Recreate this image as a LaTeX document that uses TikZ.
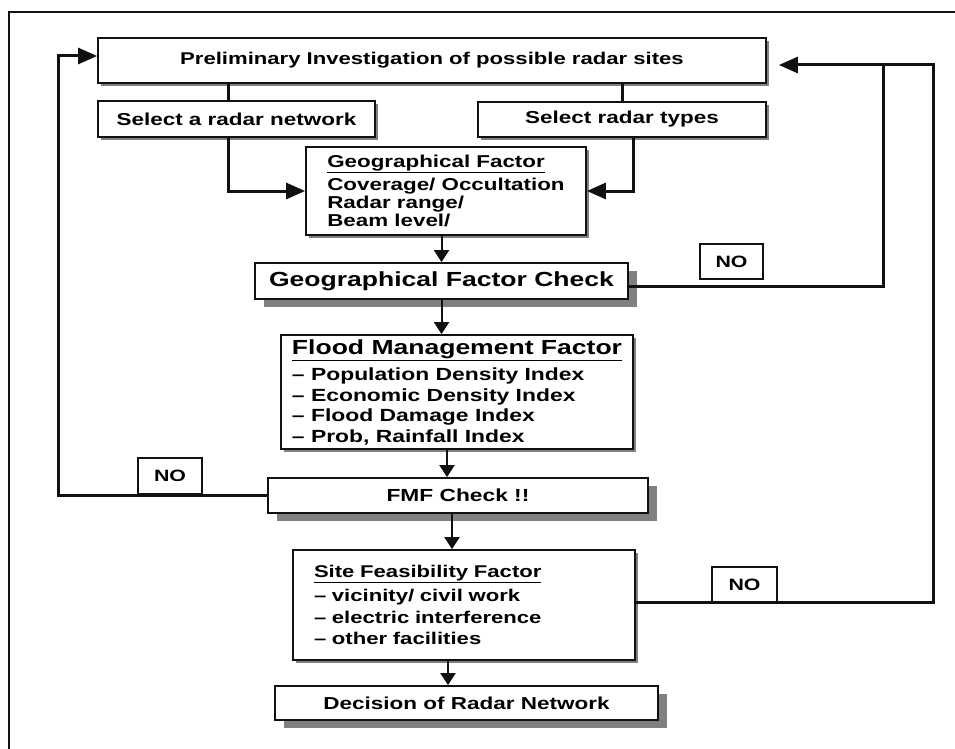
\documentclass[tikz,border=0pt]{standalone}
\usepackage{fontspec}
\setmainfont{Liberation Sans}[FakeStretch=1.3]
\usepackage{tikz}
\usetikzlibrary{arrows.meta,positioning,shadows}
\definecolor{shade}{HTML}{808080}
\definecolor{ink}{HTML}{111111}
\newcommand{\fs}[2]{\fontsize{#1}{#2}\selectfont\bfseries}
\tikzset{
  blk/.style={draw=ink, line width=1.8pt, fill=white, align=center, inner sep=2pt, font=\fs{17}{19}},
  blks/.style={blk, drop shadow={shadow xshift=3pt, shadow yshift=-3pt, opacity=1, fill=shade}},
  blkd/.style={blk, drop shadow={shadow xshift=9pt, shadow yshift=-8pt, opacity=1, fill=shade}},
  nobox/.style={draw=ink, line width=1.4pt, fill=white, font=\fs{16.4}{18}, minimum width=63pt, minimum height=35pt, inner sep=0pt},
  ln/.style={draw=ink, line width=3pt},
  ar/.style={ln, -{Triangle[length=19pt,width=16pt]}},
  dar/.style={draw=ink, line width=2pt, -{Triangle[length=12pt,width=15pt]}},
  frame/.style={draw=ink, line width=1.2pt},
}

\begin{document}
\begin{tikzpicture}[x=1pt,y=-1pt]
\useasboundingbox (0,0) rectangle (955,749);
\draw[frame] (9,749) |- (955,12);

\node[blks, minimum width=668pt, minimum height=45pt] (prelim) at (432,60.5) {Preliminary Investigation of possible radar sites};
\node[blks, minimum width=277pt, minimum height=36pt, font=\fs{17.3}{20}] (selnet) at (236.5,119) {Select a radar network};
\node[blks, minimum width=288pt, minimum height=35pt, font=\fs{17.3}{20}] (seltype) at (622,119.5) {Select radar types};
\node[blks, align=left, minimum width=280pt, minimum height=88pt, font=\fs{17.2}{18}] (geo) at (446,191) {\underline{Geographical Factor}\\[4pt]Coverage/ Occultation\\Radar range/\\Beam level/};
\node[blkd, minimum width=373pt, minimum height=36pt, font=\fs{20.4}{24}] (gcheck) at (441.5,281) {Geographical Factor Check};
\node[blks, align=left, minimum width=352pt, minimum height=114pt, font=\fs{17.6}{20.5}] (flood) at (457,392) {{\fs{20.4}{24}\underline{Flood Management Factor}}\\[6pt]-- Population Density Index\\-- Economic Density Index\\-- Flood Damage Index\\-- Prob, Rainfall Index};
\node[blkd, minimum width=380pt, minimum height=35pt, font=\fs{17.5}{20}] (fmf) at (458,495.5) {FMF Check !!};
\node[blks, align=left, text width=300pt, inner xsep=21pt, minimum height=110pt, font=\fs{17}{21.5}] (site) at (464,605) {\underline{Site Feasibility Factor}\\[3pt]-- vicinity/ civil work\\-- electric interference\\-- other facilities};
\node[blkd, minimum width=383pt, minimum height=34pt, font=\fs{17.3}{20}] (decision) at (466.5,703) {Decision of Radar Network};

\coordinate (lc) at (58,0);
\coordinate (rin) at (883,0);
\coordinate (rout) at (933,0);

\draw[ln] ([xshift=-8pt]selnet.north) -- ([xshift=-8pt]selnet.north |- prelim.south);
\draw[ln] (seltype.north) -- (seltype.north |- prelim.south);
\draw[ar] ([xshift=-8pt]selnet.south) |- (geo.west);
\draw[ar] ([xshift=11pt]seltype.south) |- (geo.east);
\draw[dar] (gcheck.north |- geo.south) -- (gcheck.north);
\draw[dar] (gcheck.south) -- (gcheck.south |- flood.north);
\draw[dar] ([xshift=-10pt]flood.south) -- ([xshift=-10pt]flood.south |- fmf.north);
\draw[dar] ([xshift=-6pt]fmf.south) -- ([xshift=-6pt]fmf.south |- site.north);
\draw[dar] ([xshift=-16pt]site.south) -- ([xshift=-16pt]site.south |- decision.north);

\draw[ar] (fmf.west) -| ([yshift=4.5pt]prelim.west -| lc) -- ([yshift=4.5pt]prelim.west);
\draw[ar, shorten >=12pt] ([yshift=-5pt]gcheck.east) -| ([yshift=-4.5pt]prelim.east -| rin) -- ([yshift=-4.5pt]prelim.east);
\draw[ln] ([yshift=3pt]site.east) -| ([yshift=-4.5pt]prelim.east -| rout) -- ([yshift=-4.5pt]prelim.east -| rin);

\node[nobox] (noup) at (731.5,261.5) {NO};
\node[nobox, minimum width=64pt, minimum height=36pt] (noleft) at (170,476) {NO};
\node[nobox, minimum width=65pt] (nolow) at (744.5,584.5) {NO};
\end{tikzpicture}
\end{document}
